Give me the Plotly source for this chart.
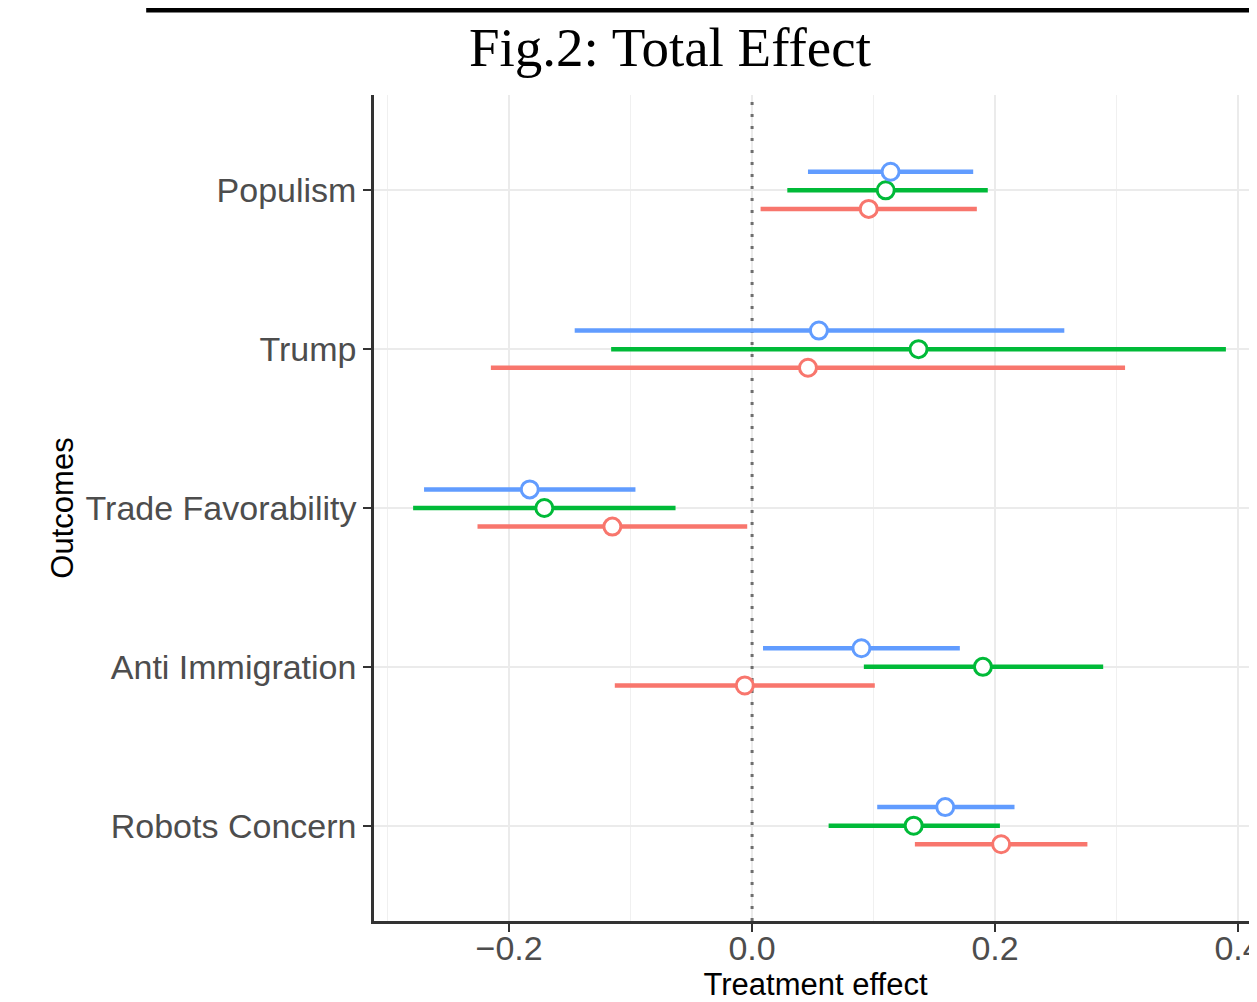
import plotly.graph_objects as go

# ---- data ----
outcomes = ["Populism", "Trump", "Trade Favorability", "Anti Immigration", "Robots Concern"]
outcome_pos = [5, 4, 3, 2, 1]

blue_est = [0.114, 0.055, -0.183, 0.090, 0.159]
blue_lo = [0.046, -0.146, -0.270, 0.009, 0.103]
blue_hi = [0.182, 0.257, -0.096, 0.171, 0.216]

green_est = [0.110, 0.137, -0.171, 0.190, 0.133]
green_lo = [0.029, -0.116, -0.279, 0.092, 0.063]
green_hi = [0.194, 0.390, -0.063, 0.289, 0.204]

red_est = [0.096, 0.046, -0.115, -0.006, 0.205]
red_lo = [0.007, -0.215, -0.226, -0.113, 0.134]
red_hi = [0.185, 0.307, -0.004, 0.101, 0.276]

x_ticks = [-0.2, 0.0, 0.2, 0.4]
x_minor = [-0.3, -0.1, 0.1, 0.3]
y_range = [0.4, 5.6]

series = [
    ("Series 1", red_est, red_lo, red_hi, "#F8766D", -0.117),
    ("Series 2", green_est, green_lo, green_hi, "#00BA38", 0.0),
    ("Series 3", blue_est, blue_lo, blue_hi, "#619CFF", 0.117),
]

fig = go.Figure()

# dotted zero reference line (drawn first so it sits below the marks)
fig.add_trace(go.Scatter(
    x=[0, 0], y=y_range, mode="lines",
    line=dict(color="#6E6E6E", width=3, dash="3px,9px"),
    hoverinfo="skip", showlegend=False,
))

for name, est, lo, hi, col, off in series:
    fig.add_trace(go.Scatter(
        x=est,
        y=[p + off for p in outcome_pos],
        mode="markers",
        name=name,
        marker=dict(symbol="circle", size=17, color="white",
                    line=dict(color=col, width=3)),
        error_x=dict(type="data", symmetric=False,
                     array=[h - e for h, e in zip(hi, est)],
                     arrayminus=[e - l for e, l in zip(est, lo)],
                     color=col, thickness=4.5, width=0),
        showlegend=False,
    ))

# top black rule
fig.add_shape(type="rect", xref="paper", yref="paper",
              x0=-0.258, x1=1.01, y0=1.1000, y1=1.12,
              fillcolor="black", line=dict(width=0), layer="above")

fig.update_layout(
    width=1249, height=994,
    margin=dict(l=366, r=0, t=87, b=81, autoexpand=False),
    paper_bgcolor="white", plot_bgcolor="white",
    title=dict(text="Fig.2: Total Effect", x=0.530, xref="container", xanchor="center",
               y=0.961, yref="container", yanchor="middle",
               font=dict(family="Liberation Serif", size=55, color="black")),
    font=dict(family="Liberation Sans, Arial, sans-serif"),
)

fig.update_xaxes(
    range=[-0.3112, 0.4156],
    tickvals=x_ticks, tickformat=".1f",
    tickfont=dict(size=34, color="#4D4D4D"),
    ticks="outside", ticklen=8, tickwidth=2, tickcolor="#333333",
    ticklabeloverflow="allow", ticklabelstandoff=-13,
    showline=True, linecolor="#333333", linewidth=2.5,
    showgrid=True, gridcolor="#EBEBEB", gridwidth=1.6,
    minor=dict(tickvals=x_minor, showgrid=True, gridcolor="#F0F0F0", gridwidth=1.2, ticks=""),
    zeroline=False, automargin=False,
    title=dict(text="Treatment effect", font=dict(size=31, color="black"), standoff=16),
)

fig.update_yaxes(
    range=y_range,
    tickvals=outcome_pos, ticktext=outcomes,
    tickfont=dict(size=34, color="#4D4D4D"),
    ticks="outside", ticklen=8, tickwidth=2, tickcolor="#333333",
    showline=True, linecolor="#333333", linewidth=2.5,
    showgrid=True, gridcolor="#EBEBEB", gridwidth=1.6,
    zeroline=False, automargin=False,
    title=dict(text="Outcomes", font=dict(size=31, color="black"), standoff=3),
)

fig.write_html("out.html")
